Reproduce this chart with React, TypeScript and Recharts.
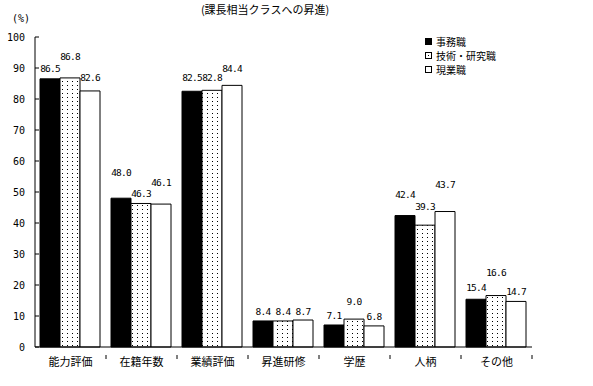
import React from 'react'
import { BarChart, Bar, XAxis, YAxis, LabelList } from 'recharts'

const categories = ['能力評価', '在籍年数', '業績評価', '昇進研修', '学歴', '人柄', 'その他']
const jimu = [86.5, 48.0, 82.5, 8.4, 7.1, 42.4, 15.4]
const gijutsu = [86.8, 46.3, 82.8, 8.4, 9.0, 39.3, 16.6]
const genkyo = [82.6, 46.1, 84.4, 8.7, 6.8, 43.7, 14.7]
const seriesNames = ['事務職', '技術・研究職', '現業職']
const yTicks = [0, 10, 20, 30, 40, 50, 60, 70, 80, 90, 100]

// how far each value label sits above its bar (px), staggered like the original
const liftJimu = [11, 26, 14, 10, 10, 22, 12]
const liftGijutsu = [22, 10, 13, 10, 18, 19, 24]
const liftGenkyo = [14, 22, 17, 9, 10, 28, 10]

const data = categories.map((name, i) => ({
  name,
  jimu: jimu[i],
  gijutsu: gijutsu[i],
  genkyo: genkyo[i],
}))

const W = 593
const H = 386
const margin = { top: 37, right: 61, left: 0, bottom: 9 }
const yAxisWidth = 35
const band = (W - margin.left - margin.right - yAxisWidth) / categories.length

const numFont = '"DejaVu Sans Mono", "Liberation Mono", monospace'
const jpFont = '"Noto Sans CJK JP", sans-serif'

// Y tick: label on the left, short tick mark pointing inside
const YTick = ({ x, y, payload }: any) => (
  <g>
    <text x={x} y={y} dy={4} textAnchor="end" fontSize={10} fontFamily={numFont} fill="#000">
      {payload.value}
    </text>
    <line x1={x + 10} x2={x + 14} y1={y} y2={y} stroke="#000" />
  </g>
)

// X tick: category name, plus a small mark at each category boundary
const XTick = ({ x, y, payload }: any) => (
  <g>
    <line x1={x + band / 2} x2={x + band / 2} y1={y} y2={y + 4} stroke="#000" />
    <text x={x} y={y + 11} textAnchor="middle" fontSize={11} fontFamily={jpFont} fill="#000">
      {payload.value}
    </text>
  </g>
)

const makeLabel = (lift: number[]) => (p: any) => (
  <text
    x={p.x + p.width / 2}
    y={p.y - lift[p.index]}
    dy={4}
    textAnchor="middle"
    fontSize={9.5}
    fontFamily={numFont}
    letterSpacing={-0.8}
    fill="#000"
  >
    {Number(p.value).toFixed(1)}
  </text>
)

export default function App() {
  return (
    <div style={{ position: 'absolute', left: 0, top: 0, width: W, height: H, background: '#fff' }}>
      <div
        style={{
          position: 'absolute', left: 0, width: 530, top: 2, textAlign: 'center',
          fontFamily: jpFont, fontSize: 11, lineHeight: '14px',
        }}
      >
        (課長相当クラスへの昇進)
      </div>
      <div style={{ position: 'absolute', left: 12, top: 13, fontFamily: numFont, fontSize: 10 }}>(%)</div>
      <div
        style={{
          position: 'absolute', left: 425, top: 35, zIndex: 2,
          fontFamily: jpFont, fontSize: 10, lineHeight: '14px', color: '#000',
        }}
      >
        {seriesNames.map((n, i) => (
          <div key={n} style={{ display: 'flex', alignItems: 'center', height: 14 }}>
            <svg width={8} height={8} style={{ marginRight: 3 }}>
              <rect x={0.5} y={0.5} width={6} height={6} fill={i === 0 ? '#000' : '#fff'} stroke="#000" />
              {i === 1 && <rect x={3} y={3} width={1} height={1} fill="#000" />}
            </svg>
            {n}
          </div>
        ))}
      </div>
      <BarChart width={W} height={H} data={data} margin={margin} barCategoryGap={5} barGap={0}>
        <defs>
          <pattern id="dots" width={5} height={4} patternUnits="userSpaceOnUse">
            <rect width={5} height={4} fill="#fff" />
            <rect x={2} y={1} width={1} height={1} fill="#000" />
          </pattern>
        </defs>
        <XAxis
          dataKey="name"
          axisLine={{ stroke: '#000' }}
          tickLine={false}
          height={30}
          tick={<XTick />}
          interval={0}
        />
        <YAxis
          domain={[0, 100]}
          ticks={yTicks}
          width={yAxisWidth}
          axisLine={{ stroke: '#000' }}
          tickLine={false}
          tickSize={0}
          tickMargin={10}
          tick={<YTick />}
          interval={0}
        />
        <Bar dataKey="jimu" name={seriesNames[0]} fill="#000" stroke="#000" isAnimationActive={false}>
          <LabelList dataKey="jimu" content={makeLabel(liftJimu)} />
        </Bar>
        <Bar dataKey="gijutsu" name={seriesNames[1]} fill="url(#dots)" stroke="#000" isAnimationActive={false}>
          <LabelList dataKey="gijutsu" content={makeLabel(liftGijutsu)} />
        </Bar>
        <Bar dataKey="genkyo" name={seriesNames[2]} fill="#fff" stroke="#000" isAnimationActive={false}>
          <LabelList dataKey="genkyo" content={makeLabel(liftGenkyo)} />
        </Bar>
      </BarChart>
    </div>
  )
}
